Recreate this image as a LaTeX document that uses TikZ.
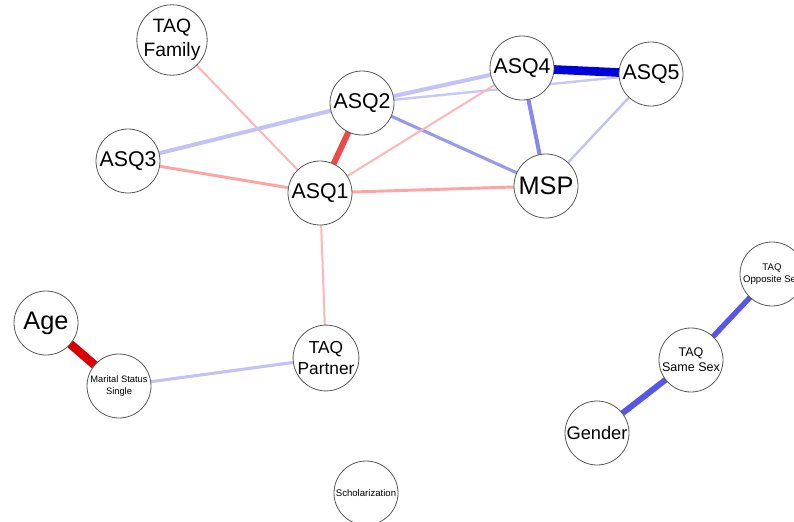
\documentclass[tikz,border=0pt]{standalone}
\usepackage{fontspec}
\setmainfont{Liberation Sans}
\begin{document}
\begin{tikzpicture}[x=0.75pt,y=-0.75pt,
  vnode/.style={circle,draw=black!65,line width=0.6pt,fill=white,minimum size=48pt,inner sep=0pt,align=center,text=black},
  big/.style={font=\fontsize{16}{18}\selectfont},
  mid/.style={font=\fontsize{14}{17}\selectfont},
  small/.style={font=\fontsize{9.4}{11.5}\selectfont},
  tiny/.style={font=\fontsize{7}{9}\selectfont},
  edge/.style={line cap=butt}]
\useasboundingbox[fill=white] (0,0) rectangle (794,522);
\definecolor{pk1}{HTML}{FFB6B6}
\definecolor{pk2}{HTML}{FFA4A4}
\definecolor{rd1}{HTML}{EF4A4A}
\definecolor{rd2}{HTML}{D80000}
\definecolor{lv1}{HTML}{C2C2F6}
\definecolor{lv2}{HTML}{C8C8F8}
\definecolor{bl1}{HTML}{9898EE}
\definecolor{bl2}{HTML}{8888EC}
\definecolor{bl3}{HTML}{0000D8}
\definecolor{bl4}{HTML}{5656E8}
% coordinates (centres)
\coordinate (cfam) at (172,40);
\coordinate (ca2) at (362,103);
\coordinate (ca3) at (128,161);
\coordinate (ca1) at (320,193);
\coordinate (ca4) at (522,68);
\coordinate (ca5) at (651,74);
\coordinate (cmsp) at (546,186);
\coordinate (cage) at (46,323);
\coordinate (cmar) at (119,386);
\coordinate (cpar) at (326,358);
\coordinate (csch) at (366,493);
\coordinate (copp) at (772,274);
\coordinate (csam) at (691,360);
\coordinate (cgen) at (597,433);
% edges
\draw[edge,pk1,line width=1.5pt] (cfam) -- (ca1);
\draw[edge,lv1,line width=3pt] (ca3) -- (ca2);
\draw[edge,pk2,line width=2.2pt] (ca3) -- (ca1);
\draw[edge,rd1,line width=4.5pt] (ca2) -- (ca1);
\draw[edge,lv1,line width=3pt] (ca2) -- (ca4);
\draw[edge,lv2,line width=1.8pt] (ca2) -- (ca5);
\draw[edge,bl1,line width=2.3pt] (ca2) -- (cmsp);
\draw[edge,pk1,line width=1.5pt] (ca1) -- (ca4);
\draw[edge,pk2,line width=2.2pt] (ca1) -- (cmsp);
\draw[edge,bl3,line width=6.5pt] (ca4) -- (ca5);
\draw[edge,bl2,line width=3pt] (ca4) -- (cmsp);
\draw[edge,lv1,line width=1.8pt] (ca5) -- (cmsp);
\draw[edge,pk1,line width=1.5pt] (ca1) -- (cpar);
\draw[edge,rd2,line width=6.5pt] (cage) -- (cmar);
\draw[edge,lv1,line width=2.3pt] (cmar) -- (cpar);
\draw[edge,bl4,line width=4pt] (copp) -- (csam);
\draw[edge,bl4,line width=4.5pt] (csam) -- (cgen);
% nodes
\node[vnode,font=\fontsize{14.5}{18}\selectfont] (fam) at (cfam) {TAQ\\Family};
\node[vnode,big] (a2) at (ca2) {ASQ2};
\node[vnode,big] (a3) at (ca3) {ASQ3};
\node[vnode,big] (a1) at (ca1) {ASQ1};
\node[vnode,big] (a4) at (ca4) {ASQ4};
\node[vnode,big] (a5) at (ca5) {ASQ5};
\node[vnode,font=\fontsize{19}{22}\selectfont] (msp) at (cmsp) {MSP};
\node[vnode,font=\fontsize{19}{22}\selectfont] (age) at (cage) {Age};
\node[vnode,tiny] (mar) at (cmar) {Marital Status\\Single};
\node[vnode,font=\fontsize{13}{16}\selectfont] (par) at (cpar) {TAQ\\Partner};
\node[vnode,font=\fontsize{7.2}{9}\selectfont] (sch) at (csch) {Scholarization};
\node[vnode,font=\fontsize{7.2}{9}\selectfont] (opp) at (copp) {TAQ\\Opposite Sex};
\node[vnode,small] (sam) at (csam) {TAQ\\Same Sex};
\node[vnode,font=\fontsize{13.7}{16}\selectfont] (gen) at (cgen) {Gender};
\end{tikzpicture}
\end{document}
